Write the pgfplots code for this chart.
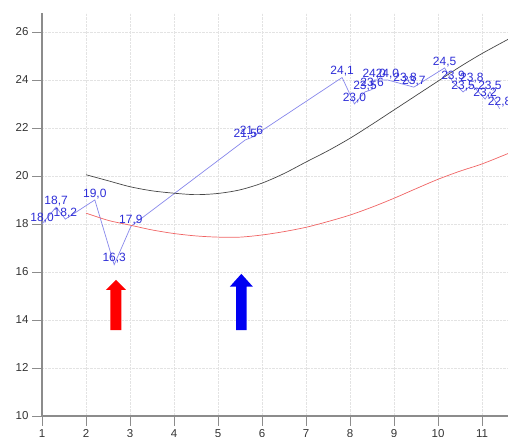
\documentclass[border=0pt]{standalone}
\usepackage{pgfplots}
\pgfplotsset{compat=1.18}
\usepackage{fontspec}
\setmainfont{Liberation Sans}

\definecolor{bline}{RGB}{135,135,235}
\definecolor{blabel}{RGB}{45,45,215}
\definecolor{curveblack}{RGB}{70,70,70}
\definecolor{curvered}{RGB}{240,100,100}
\definecolor{axisgray}{RGB}{140,140,140}

\begin{document}
\begin{tikzpicture}
\begin{axis}[
    scale only axis,
    x=44pt, y=24pt,
    xmin=1, xmax=11.59,
    ymin=10, ymax=26.8,
    axis lines*=left,
    axis line style={axisgray, line width=1.6pt},
    xtick={1,...,11},
    ytick={10,12,...,26},
    tick align=outside,
    major tick length=10pt,
    tick style={axisgray, line width=0.8pt},
    grid=major,
    grid style={densely dotted, black!11},
    ticklabel style={font=\fontsize{11.5}{13}\selectfont, text=black!80},
    /pgf/number format/assume math mode=true,
]
% blue measured series
\addplot[bline, line width=0.7pt,
    nodes near coords={\pgfmathprintnumber[use comma,fixed,fixed zerofill,precision=1]{\pgfplotspointmeta}},
    every node near coord/.append style={font=\fontsize{12}{13}\selectfont, text=blabel, inner sep=1pt, anchor=south}]
  table {
x     y
1.00  18.0
1.32  18.7
1.53  18.2
2.20  19.0
2.64  16.3
3.02  17.9
5.62  21.5
5.76  21.6
7.82  24.1
8.10  23.0
8.34  23.5
8.50  23.6
8.55  24.0
8.85  24.0
9.25  23.8
9.45  23.7
10.15 24.5
10.34 23.9
10.57 23.5
10.77 23.8
11.07 23.2
11.18 23.5
11.40 22.8
};
% black reference curve
\addplot[curveblack, line width=0.7pt, smooth] table {
x     y
2.0   20.05
2.5   19.80
3.0   19.55
3.5   19.38
4.0   19.28
4.5   19.22
5.0   19.27
5.5   19.42
6.0   19.70
6.5   20.10
7.0   20.58
7.5   21.05
8.0   21.57
8.5   22.15
9.0   22.75
9.5   23.35
10.0  23.95
10.5  24.55
11.0  25.10
11.6  25.70
};
% red reference curve
\addplot[curvered, line width=0.7pt, smooth] table {
x     y
2.0   18.45
2.5   18.15
3.0   17.95
3.5   17.75
4.0   17.60
4.5   17.50
5.0   17.45
5.5   17.45
6.0   17.54
6.5   17.68
7.0   17.86
7.5   18.10
8.0   18.37
8.5   18.70
9.0   19.07
9.5   19.47
10.0  19.86
10.5  20.20
11.0  20.50
11.6  20.94
};
% arrows
\addplot[fill=red, draw=none] coordinates {
 (2.555,13.58) (2.805,13.58) (2.805,15.25) (2.907,15.25)
 (2.68,15.67) (2.453,15.25) (2.555,15.25)} --cycle;
\addplot[fill=blue!95!black, draw=none] coordinates {
 (5.41,13.58) (5.65,13.58) (5.65,15.39) (5.79,15.39)
 (5.53,15.92) (5.27,15.39) (5.41,15.39)} --cycle;
\coordinate (bbl) at (axis cs:0.045,9.125);
\coordinate (btr) at (axis cs:11.59,27.33);
\end{axis}
\pgfresetboundingbox
\useasboundingbox (bbl) rectangle (btr);
\end{tikzpicture}
\end{document}
